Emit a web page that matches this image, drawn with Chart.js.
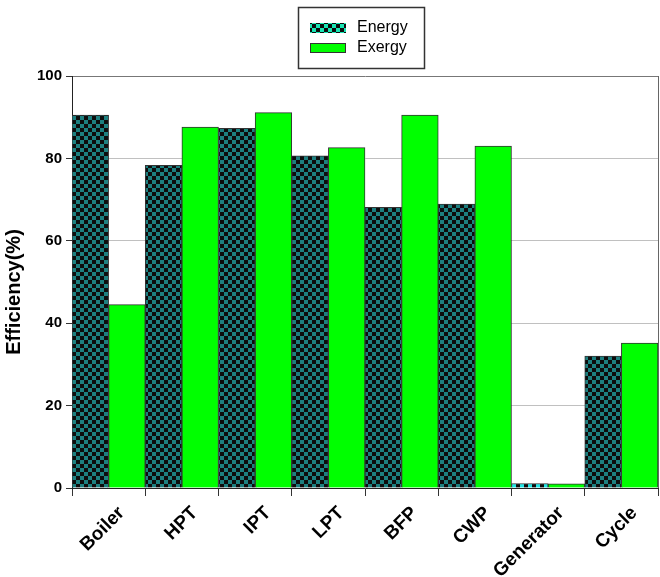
<!DOCTYPE html>
<html>
<head>
<meta charset="utf-8">
<script src="https://cdn.jsdelivr.net/npm/chart.js@4.4.1/dist/chart.umd.min.js"></script>
<style>
  html, body { margin: 0; padding: 0; background: #fff; }
  #wrap { position: relative; width: 660px; height: 577px; }
</style>
</head>
<body>
<div id="wrap"><canvas id="chart" width="660" height="577"></canvas></div>
<script>
// Component efficiencies of the power plant (%)
const categories = ['Boiler', 'HPT', 'IPT', 'LPT', 'BFP', 'CWP', 'Generator', 'Cycle'];
const energyEff = [90.5, 78.3, 87.3, 80.6, 68.1, 68.9, 1.1, 32.0];
const exergyEff = [44.5, 87.6, 91.1, 82.6, 90.5, 83.0, 1.0, 35.2];
const yTicks = [0, 20, 40, 60, 80, 100];
const yTitle = 'Efficiency(%)';

const FONT = 'Liberation Sans, Arial, Helvetica, sans-serif';

// Two-colour checkerboard fill
function checker(light, dark, cell) {
  const c = document.createElement('canvas');
  c.width = c.height = cell * 2;
  const g = c.getContext('2d');
  g.fillStyle = light;
  g.fillRect(0, 0, cell * 2, cell * 2);
  g.fillStyle = dark;
  g.fillRect(0, 0, cell, cell);
  g.fillRect(cell, cell, cell, cell);
  return g.createPattern(c, 'repeat');
}

const tealCheck = checker('#1d8080', '#0d0d0d', 4);
const cyanCheck = checker('#22e6e6', '#0d0d0d', 4);
const legendCheck = checker('#18e6b4', '#0d0d0d', 4);
const GREEN = '#00ff00';

const energyFill = categories.map(c => c === 'Generator' ? cyanCheck : tealCheck);

// Boxed two-row legend above the plot, plus the rotated y-axis title
const decorations = {
  id: 'decorations',
  afterDraw(chart) {
    const ctx = chart.ctx;
    const area = chart.chartArea;
    ctx.save();
    ctx.strokeStyle = '#333';
    ctx.lineWidth = 1.5;
    ctx.strokeRect(298.5, 7.5, 126, 61);
    const rows = [
      { label: chart.data.datasets[0].label, fill: legendCheck, y: 23 },
      { label: chart.data.datasets[1].label, fill: GREEN, y: 43 }
    ];
    ctx.font = '16px ' + FONT;
    ctx.textBaseline = 'middle';
    ctx.textAlign = 'left';
    rows.forEach(r => {
      ctx.fillStyle = r.fill;
      ctx.fillRect(310, r.y, 36, 10);
      if (r.fill === GREEN) {
        ctx.strokeStyle = '#333';
        ctx.lineWidth = 1;
        ctx.strokeRect(310.5, r.y + 0.5, 35, 9);
      }
      ctx.fillStyle = '#000';
      ctx.fillText(r.label, 357, r.y + 5);
    });

    // y-axis title
    ctx.translate(14, (area.top + area.bottom) / 2 + 10);
    ctx.rotate(-Math.PI / 2);
    ctx.font = 'bold 20px ' + FONT;
    ctx.textAlign = 'center';
    ctx.fillStyle = '#000';
    ctx.fillText(yTitle, 0, 0);
    ctx.restore();
  }
};

new Chart(document.getElementById('chart'), {
  type: 'bar',
  data: {
    labels: categories,
    datasets: [
      {
        label: 'Energy',
        data: energyEff,
        backgroundColor: energyFill,
        borderColor: '#333',
        borderWidth: 1,
        categoryPercentage: 1,
        barPercentage: 1
      },
      {
        label: 'Exergy',
        data: exergyEff,
        backgroundColor: GREEN,
        borderColor: '#333',
        borderWidth: 1,
        categoryPercentage: 1,
        barPercentage: 1
      }
    ]
  },
  options: {
    responsive: false,
    animation: false,
    layout: { padding: { top: 76, right: 2, left: 0, bottom: 0 } },
    plugins: {
      legend: { display: false },
      tooltip: { enabled: false }
    },
    scales: {
      x: {
        offset: true,
        grid: {
          offset: true,
          drawOnChartArea: true,
          color: ctx => (ctx.tick ? 'rgba(0,0,0,0)' : '#666'),
          tickColor: '#333',
          tickLength: 8
        },
        border: { color: '#222', width: 1 },
        ticks: {
          autoSkip: false,
          minRotation: 45,
          maxRotation: 45,
          labelOffset: 13,
          padding: 6,
          color: '#000',
          font: { family: FONT, size: 19, weight: 'bold' }
        },
        afterFit: s => { s.height = 89; }
      },
      y: {
        min: 0,
        max: 100,
        afterBuildTicks: s => { s.ticks = yTicks.map(v => ({ value: v })); },
        grid: {
          color: ctx => {
            const v = ctx.tick ? ctx.tick.value : null;
            if (v === 0) return 'rgba(0,0,0,0)';
            if (v === 100) return '#777';
            return '#c0c0c0';
          },
          tickColor: '#333',
          tickLength: 6
        },
        border: { color: '#222', width: 1 },
        ticks: {
          padding: 4,
          color: '#000',
          font: { family: FONT, size: 15, weight: 'bold' }
        },
        afterFit: s => { s.width = 72; }
      }
    }
  },
  plugins: [decorations]
});
</script>
</body>
</html>
